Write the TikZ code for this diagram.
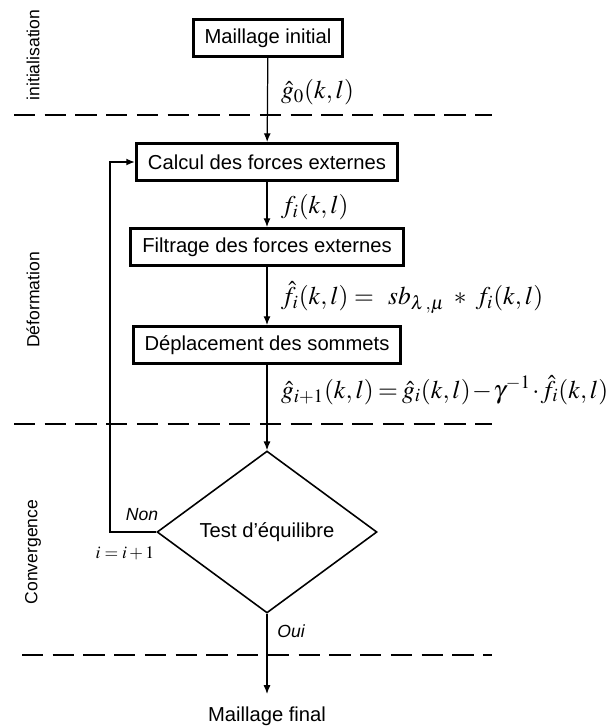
\documentclass[tikz,border=0pt]{standalone}
\usepackage{mathptmx}
\usepackage[no-math]{fontspec}
\setmainfont{Liberation Sans}
\usepackage{tikz}
\usetikzlibrary{shapes.geometric,arrows.meta}

\begin{document}
\begin{tikzpicture}[x=0.02cm,y=-0.02cm,>={Latex[length=5pt,width=4pt]},
   block/.style={draw,line width=1.7pt,rectangle,inner xsep=6.5pt,minimum height=21pt,
                 font=\fontsize{11.5}{14}\selectfont},
   test/.style={draw,line width=0.9pt,diamond,aspect=1.36,minimum width=4.4cm,
                minimum height=3.24cm,inner sep=0pt,font=\fontsize{11.5}{14}\selectfont},
   eqn/.style={anchor=west,inner sep=1pt,font=\fontsize{14.5}{17}\selectfont},
   phase/.style={rotate=90,font=\fontsize{10}{12}\selectfont},
   sep/.style={line width=1.6pt,dash pattern=on 12pt off 5.5pt},
   flow/.style={->,line width=0.7pt}]
 \useasboundingbox (0,0) rectangle (615,727);
 % blocks along the main column
 \node[block] (init) at (268,38)  {Maillage initial};
 \node[block] (calc) at (267,162) {Calcul des forces externes};
 \node[block] (filt) at (267,247) {Filtrage des forces externes};
 \node[block] (depl) at (267,345) {D\'eplacement des sommets};
 \node[test]  (test) at (267,532) {Test d'\'equilibre};
 \node[font=\fontsize{11.5}{14}\selectfont] (fin) at (267,716) {Maillage final};
 \coordinate (tip) at (267,694);
 \coordinate (lp)  at (110,532);   % corner of the loop
 % phase separators
 \draw[sep] (14,115) -- (492,115);
 \draw[sep] (14,424) -- (492,424);
 \draw[sep] (22,655) -- (492,655);
 % phase names
 \node[phase] (ph1) at (33,55)  {initialisation};
 \node[phase] (ph2) at (33,300) {D\'eformation};
 \node[phase] (ph3) at (33,552) {Convergence};
 % forward wires
 \draw[flow] (init) -- (calc);
 \draw[flow] (calc) -- (filt);
 \draw[flow] (filt) -- (depl);
 \draw[flow] (depl) -- (test.north);
 \draw[flow] (test.south) -- (tip);
 % loop back when not converged
 \draw[->,line width=1.4pt] (test.west) -- (lp) |- (calc.west);
 % signals on the wires
 \node[eqn] (g0) at (279,92)  {$\hat{g}_0(k,l)$};
 \node[eqn] (fi) at (279,207) {$f_i(k,l)$};
 \node[eqn] (fh) at (279,298) {$\hat{f}_i(k,l) =\;\, sb_{\lambda\,,\mu} \;*\; f_i(k,l)$};
 \node[eqn] (gi) at (279,390) {\medmuskip=1mu\thickmuskip=3mu$\hat{g}_{i+1}(k,l) = \hat{g}_i(k,l) - \gamma^{-1}\cdot\hat{f}_i(k,l)$};
 % branch labels
 \node[font=\fontsize{10}{12}\selectfont\itshape] (non) at (142,515) {Non};
 \node[font=\fontsize{10}{12}\selectfont] (inc) at (125,553) {$i = i+1$};
 \node[font=\fontsize{10}{12}\selectfont\itshape] (oui) at (291,631) {Oui};
\end{tikzpicture}
\end{document}
